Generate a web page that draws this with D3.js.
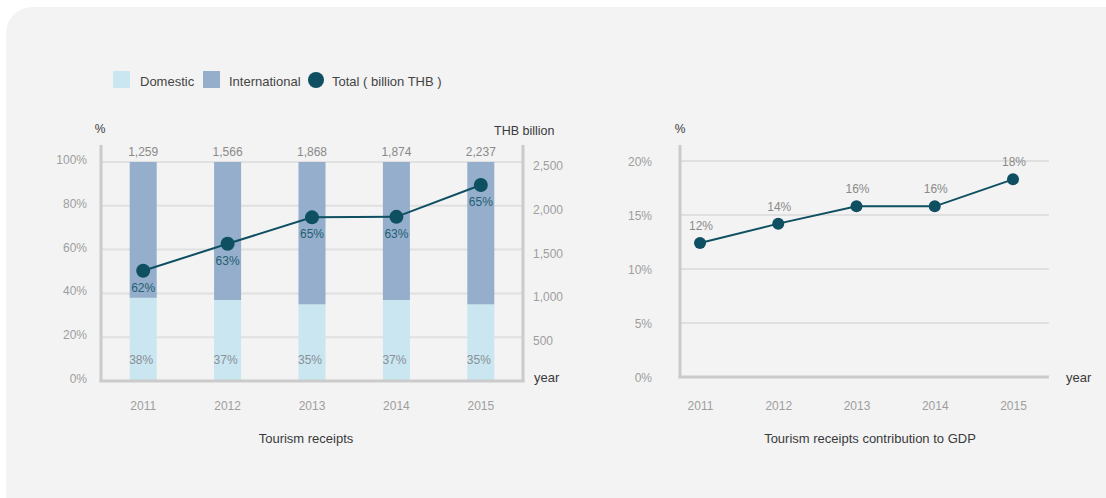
<!DOCTYPE html>
<html>
<head>
<meta charset="utf-8">
<script src="https://cdn.jsdelivr.net/npm/d3@7"></script>
<style>
  html, body { margin: 0; padding: 0; background: #ffffff; }
  svg { display: block; font-family: "Liberation Sans", Arial, sans-serif; }
  .tick line { display: none; }
  .domain { display: none; }
</style>
</head>
<body>
<svg id="chart" width="1106" height="498"></svg>
<script>
// Tourism receipts by year
const years = ["2011", "2012", "2013", "2014", "2015"];
const domesticShare = [38, 37, 35, 37, 35];          // % of receipts
const internationalShare = [62, 63, 65, 63, 65];     // % of receipts
const totalReceipts = [1259, 1566, 1868, 1874, 2237]; // billion THB
const gdpContribution = [12.4, 14.2, 15.8, 15.8, 18.3]; // % of GDP

const shareTicks = [0, 20, 40, 60, 80, 100];
const thbTicks = [500, 1000, 1500, 2000, 2500];
const gdpTicks = [0, 5, 10, 15, 20];

const legendItems = ["Domestic", "International", "Total ( billion THB )"];

const C = {
  domestic: "#c9e6f1",
  international: "#94aecb",
  line: "#0e4f62",
  pctLabel: "#245f72",
  axis: "#cbcbcb",
  grid: "#e0e0e0",
  tick: "#9e9e9e",
  dark: "#3a3a3a"
};

const svg = d3.select("#chart");

// panel background
svg.append("rect")
  .attr("x", 6).attr("y", 7)
  .attr("width", 1130).attr("height", 520)
  .attr("rx", 26)
  .attr("fill", "#f3f3f3");

// ---------- legend ----------
const lg = svg.append("g").attr("font-size", 13).attr("fill", C.dark);
lg.append("rect").attr("x", 113).attr("y", 71).attr("width", 17).attr("height", 17).attr("fill", C.domestic);
lg.append("text").attr("x", 140).attr("y", 85.5).attr("fill", "#444").text(legendItems[0]);
lg.append("rect").attr("x", 203).attr("y", 71).attr("width", 17).attr("height", 17).attr("fill", C.international);
lg.append("text").attr("x", 229).attr("y", 85.5).attr("fill", "#444").text(legendItems[1]);
lg.append("circle").attr("cx", 316).attr("cy", 80).attr("r", 8).attr("fill", C.line);
lg.append("text").attr("x", 332).attr("y", 85.5).attr("fill", "#444").text(legendItems[2]);

// ---------- left chart: tourism receipts ----------
const L = { left: 101, right: 523, top: 145, bottom: 381, y100: 162 };

const x1 = d3.scaleBand().domain(years).range([L.left, L.right])
  .paddingInner(0.68).paddingOuter(0.34);
const yShare = d3.scaleLinear().domain([0, 100]).range([L.bottom, L.y100]);
const yThb = d3.scaleLinear().domain([0, 2500]).range([L.bottom, L.y100]);

const left = svg.append("g");

// gridlines
left.append("g").selectAll("line")
  .data(shareTicks.filter(d => d > 0))
  .join("line")
  .attr("x1", L.left).attr("x2", L.right)
  .attr("y1", d => yShare(d)).attr("y2", d => yShare(d))
  .attr("stroke", C.grid).attr("stroke-width", 2);

// stacked bars
const rows = years.map((y, i) => ({ year: y, dom: domesticShare[i], intl: internationalShare[i], total: totalReceipts[i] }));

left.append("g").selectAll("rect.dom")
  .data(rows).join("rect")
  .attr("x", d => x1(d.year)).attr("width", x1.bandwidth())
  .attr("y", d => yShare(d.dom)).attr("height", d => yShare(0) - yShare(d.dom))
  .attr("fill", C.domestic);

left.append("g").selectAll("rect.intl")
  .data(rows).join("rect")
  .attr("x", d => x1(d.year)).attr("width", x1.bandwidth())
  .attr("y", d => yShare(d.dom + d.intl)).attr("height", d => yShare(d.dom) - yShare(d.dom + d.intl))
  .attr("fill", C.international);

// axes lines
left.append("line").attr("x1", L.left).attr("x2", L.left).attr("y1", L.top).attr("y2", L.bottom + 1)
  .attr("stroke", C.axis).attr("stroke-width", 3);
left.append("line").attr("x1", L.right).attr("x2", L.right).attr("y1", L.top).attr("y2", L.bottom + 1)
  .attr("stroke", C.axis).attr("stroke-width", 3);
left.append("line").attr("x1", L.left - 1.5).attr("x2", L.right + 1.5).attr("y1", L.bottom).attr("y2", L.bottom)
  .attr("stroke", C.axis).attr("stroke-width", 3);

// y axis (share)
const axL = left.append("g").attr("transform", `translate(${L.left},0)`)
  .call(d3.axisLeft(yShare).tickValues(shareTicks).tickFormat(d => d + "%").tickSize(0).tickPadding(14));
axL.selectAll("text").attr("font-size", 12).attr("fill", C.tick).attr("font-family", null).attr("dy", "0.12em");

// y axis (THB billion)
const axR = left.append("g").attr("transform", `translate(${L.right},0)`)
  .call(d3.axisRight(yThb).tickValues(thbTicks).tickFormat(d3.format(",")).tickSize(0).tickPadding(10));
axR.selectAll("text").attr("font-size", 12).attr("fill", C.tick).attr("font-family", null).attr("dy", "0.62em");

// x axis
const axB = left.append("g").attr("transform", `translate(0,${L.bottom})`)
  .call(d3.axisBottom(x1).tickSize(0).tickPadding(20));
axB.selectAll("text").attr("font-size", 12).attr("fill", C.tick).attr("font-family", null);

// total labels above bars
left.append("g").selectAll("text")
  .data(rows).join("text")
  .attr("x", d => x1(d.year) + x1.bandwidth() / 2)
  .attr("y", 156)
  .attr("text-anchor", "middle").attr("font-size", 12).attr("fill", "#8a8a8a")
  .text(d => d3.format(",")(d.total));

// domestic share labels
left.append("g").selectAll("text")
  .data(rows).join("text")
  .attr("x", d => x1(d.year) + x1.bandwidth() / 2 - 2)
  .attr("y", 364)
  .attr("text-anchor", "middle").attr("font-size", 12).attr("fill", "#8b8f96")
  .text(d => d.dom + "%");

// total receipts line
const cx = d => x1(d.year) + x1.bandwidth() / 2;
left.append("path")
  .datum(rows)
  .attr("d", d3.line().x(cx).y(d => yThb(d.total)))
  .attr("fill", "none").attr("stroke", C.line).attr("stroke-width", 2);

left.append("g").selectAll("circle")
  .data(rows).join("circle")
  .attr("cx", cx).attr("cy", d => yThb(d.total)).attr("r", 7)
  .attr("fill", C.line);

// international share labels under each point
left.append("g").selectAll("text")
  .data(rows).join("text")
  .attr("x", cx)
  .attr("y", d => yThb(d.total) + 21)
  .attr("text-anchor", "middle").attr("font-size", 12).attr("fill", C.pctLabel)
  .text(d => d.intl + "%");

// axis captions
left.append("text").attr("x", 100).attr("y", 133).attr("text-anchor", "middle")
  .attr("font-size", 12).attr("fill", C.dark).text("%");
left.append("text").attr("x", 494).attr("y", 135)
  .attr("font-size", 12.5).attr("fill", C.dark).text("THB billion");
left.append("text").attr("x", 534).attr("y", 382)
  .attr("font-size", 13).attr("fill", C.dark).text("year");
left.append("text").attr("x", 306).attr("y", 443).attr("text-anchor", "middle")
  .attr("font-size", 13).attr("fill", C.dark).text("Tourism receipts");

// ---------- right chart: contribution to GDP ----------
const R = { left: 680, right: 1049, top: 145, bottom: 377 };
const x2 = d3.scalePoint().domain(years).range([700, 1013]);
const yGdp = d3.scaleLinear().domain([0, 20]).range([R.bottom, 161]);

const right = svg.append("g");

right.append("g").selectAll("line")
  .data(gdpTicks.filter(d => d > 0))
  .join("line")
  .attr("x1", R.left).attr("x2", R.right)
  .attr("y1", d => yGdp(d)).attr("y2", d => yGdp(d))
  .attr("stroke", C.grid).attr("stroke-width", 2);

right.append("line").attr("x1", R.left).attr("x2", R.left).attr("y1", R.top).attr("y2", R.bottom + 1)
  .attr("stroke", C.axis).attr("stroke-width", 3);
right.append("line").attr("x1", R.left - 1.5).attr("x2", R.right).attr("y1", R.bottom).attr("y2", R.bottom)
  .attr("stroke", C.axis).attr("stroke-width", 3);

const axG = right.append("g").attr("transform", `translate(${R.left},0)`)
  .call(d3.axisLeft(yGdp).tickValues(gdpTicks).tickFormat(d => d + "%").tickSize(0).tickPadding(28));
axG.selectAll("text").attr("font-size", 12).attr("fill", C.tick).attr("font-family", null).attr("dy", "0.4em");

const axG2 = right.append("g").attr("transform", `translate(0,${R.bottom})`)
  .call(d3.axisBottom(x2).tickSize(0).tickPadding(24));
axG2.selectAll("text").attr("font-size", 12).attr("fill", C.tick).attr("font-family", null);

const gdpRows = years.map((y, i) => ({ year: y, v: gdpContribution[i] }));

right.append("path")
  .datum(gdpRows)
  .attr("d", d3.line().x(d => x2(d.year)).y(d => yGdp(d.v)))
  .attr("fill", "none").attr("stroke", C.line).attr("stroke-width", 2);

right.append("g").selectAll("circle")
  .data(gdpRows).join("circle")
  .attr("cx", d => x2(d.year)).attr("cy", d => yGdp(d.v)).attr("r", 6)
  .attr("fill", C.line);

right.append("g").selectAll("text")
  .data(gdpRows).join("text")
  .attr("x", d => x2(d.year) + 1)
  .attr("y", d => yGdp(d.v) - 13)
  .attr("text-anchor", "middle").attr("font-size", 12).attr("fill", "#8a8a8a")
  .text(d => d3.format(".0f")(d.v) + "%");

right.append("text").attr("x", 680).attr("y", 133).attr("text-anchor", "middle")
  .attr("font-size", 12).attr("fill", C.dark).text("%");
right.append("text").attr("x", 1066).attr("y", 382)
  .attr("font-size", 13).attr("fill", C.dark).text("year");
right.append("text").attr("x", 870).attr("y", 443).attr("text-anchor", "middle")
  .attr("font-size", 13).attr("fill", C.dark).text("Tourism receipts contribution to GDP");
</script>
</body>
</html>
